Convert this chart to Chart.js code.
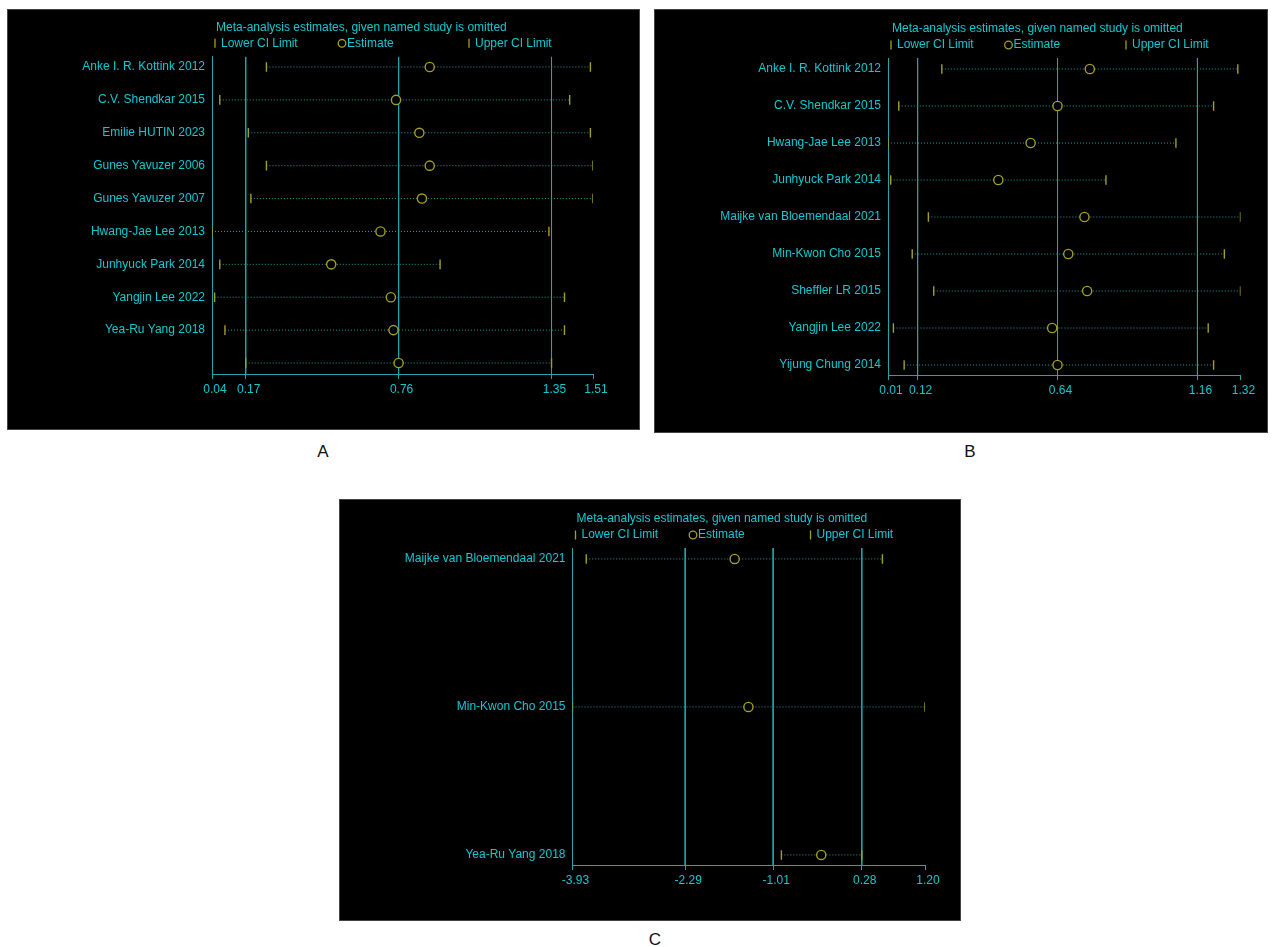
<!DOCTYPE html>
<html>
<head>
<meta charset="utf-8">
<script src="https://cdn.jsdelivr.net/npm/chart.js@4"></script>
<style>
  body { margin:0; background:#fff; width:1272px; height:947px; position:relative; overflow:hidden;
         font-family:"Liberation Sans", Arial, sans-serif; }
  canvas { position:absolute; background:#000; outline:1px solid #454545; }
  .tag { position:absolute; font-size:17px; color:#111; transform:translateX(-50%); line-height:1; }
</style>
</head>
<body>
<canvas id="panelA" width="631" height="419" style="left:8px;top:10px"></canvas>
<canvas id="panelB" width="612" height="422" style="left:655px;top:10px"></canvas>
<canvas id="panelC" width="620" height="420" style="left:340px;top:500px"></canvas>
<div class="tag" style="left:323px;top:443px">A</div>
<div class="tag" style="left:970px;top:443px">B</div>
<div class="tag" style="left:655px;top:931px">C</div>

<script>
// ---- Panel A: omitted-study sensitivity analysis ----
const studiesA = ['Anke I. R. Kottink 2012', 'C.V. Shendkar 2015', 'Emilie HUTIN 2023',
  'Gunes Yavuzer 2006', 'Gunes Yavuzer 2007', 'Hwang-Jae Lee 2013', 'Junhyuck Park 2014',
  'Yangjin Lee 2022', 'Yea-Ru Yang 2018', ''];
const lowerA    = [0.25, 0.07, 0.18, 0.25, 0.19, 0.04, 0.07, 0.05, 0.09, 0.17];
const estimateA = [0.88, 0.75, 0.84, 0.88, 0.85, 0.69, 0.50, 0.73, 0.74, 0.76];
const upperA    = [1.50, 1.42, 1.50, 1.51, 1.51, 1.34, 0.92, 1.40, 1.40, 1.35];
const ticksA    = [0.04, 0.17, 0.76, 1.35, 1.51];
const refLinesA = [0.17, 0.76, 1.35];

// ---- Panel B ----
const studiesB = ['Anke I. R. Kottink 2012', 'C.V. Shendkar 2015', 'Hwang-Jae Lee 2013',
  'Junhyuck Park 2014', 'Maijke van Bloemendaal 2021', 'Min-Kwon Cho 2015',
  'Sheffler LR 2015', 'Yangjin Lee 2022', 'Yijung Chung 2014'];
const lowerB    = [0.21, 0.05, 0.01, 0.02, 0.16, 0.10, 0.18, 0.03, 0.07];
const estimateB = [0.76, 0.64, 0.54, 0.42, 0.74, 0.68, 0.75, 0.62, 0.64];
const upperB    = [1.31, 1.22, 1.08, 0.82, 1.32, 1.26, 1.32, 1.20, 1.22];
const ticksB    = [0.01, 0.12, 0.64, 1.16, 1.32];
const refLinesB = [0.12, 0.64, 1.16];

// ---- Panel C ----
const studiesC = ['Maijke van Bloemendaal 2021', 'Min-Kwon Cho 2015', 'Yea-Ru Yang 2018'];
const lowerC    = [-3.73, -3.93, -0.89];
const estimateC = [-1.57, -1.37, -0.31];
const upperC    = [0.58, 1.20, 0.28];
const ticksC    = [-3.93, -2.29, -1.01, 0.28, 1.20];
const refLinesC = [-2.29, -1.01, 0.28];

const TITLE = 'Meta-analysis estimates, given named study is omitted';
const LEGEND_LABELS = ['Lower CI Limit', 'Estimate', 'Upper CI Limit'];

const TEXT = '#14c8d0';
const AXIS = '#1fa6ab';
const MARK = '#a29e26';
const DOTS = '#1c9fa5';
const FONT = '"Liberation Sans", Arial, sans-serif';

// Title and key drawn above the plot region
const headerPlugin = {
  id: 'header',
  afterDraw(chart, args, opts) {
    const { ctx, chartArea } = chart;
    const left = chartArea.left, w = chartArea.right - chartArea.left;
    ctx.save();
    ctx.font = '12px ' + FONT;
    ctx.textBaseline = 'middle';
    ctx.textAlign = 'left';
    ctx.fillStyle = TEXT;
    ctx.fillText(TITLE, left + 4, opts.titleY);
    const y = opts.keyY;
    const cols = [left + 3, left + 3 + w / 3, left + 3 + 2 * w / 3];
    ctx.strokeStyle = MARK;
    ctx.lineWidth = 1.3;
    ctx.beginPath(); ctx.moveTo(cols[0], y - 4.5); ctx.lineTo(cols[0], y + 4.5); ctx.stroke();
    ctx.fillText(LEGEND_LABELS[0], cols[0] + 6, y);
    ctx.beginPath(); ctx.arc(cols[1], y, 3.8, 0, Math.PI * 2); ctx.stroke();
    ctx.fillText(LEGEND_LABELS[1], cols[1] + 5, y);
    ctx.beginPath(); ctx.moveTo(cols[2], y - 4.5); ctx.lineTo(cols[2], y + 4.5); ctx.stroke();
    ctx.fillText(LEGEND_LABELS[2], cols[2] + 6, y);
    ctx.restore();
  }
};

function buildPanel(id, studies, lower, estimate, upper, ticks, refLines, geo) {
  const canvas = document.getElementById(id);
  const W = canvas.width, H = canvas.height;
  const rows = studies.map((_, i) => i);
  const X_AXIS_H = 30;

  // vertical reference lines: pooled estimate and its confidence limits
  const refDatasets = refLines.map(v => ({
    type: 'scatter',
    data: [{ x: v, y: geo.yMin }, { x: v, y: geo.yMax }],
    showLine: true,
    borderColor: AXIS,
    borderWidth: 1,
    pointRadius: 0,
    order: 6
  }));

  // dotted span from lower to upper limit for each omitted study
  const ciLines = rows.map(i => ({
    type: 'scatter',
    data: [{ x: lower[i], y: i }, { x: upper[i], y: i }],
    showLine: true,
    borderColor: DOTS,
    borderWidth: 1,
    borderDash: [1, 2],
    pointRadius: 0,
    order: 5
  }));

  const limitMarker = vals => ({
    type: 'scatter',
    data: rows.map(i => ({ x: vals[i], y: i })),
    pointStyle: 'line',
    rotation: 90,
    pointRadius: 4.8,
    pointBorderColor: MARK,
    pointBorderWidth: 1.4,
    order: 1
  });

  const estimates = {
    type: 'scatter',
    data: rows.map(i => ({ x: estimate[i], y: i })),
    pointStyle: 'circle',
    pointRadius: 4.6,
    pointBackgroundColor: '#000',
    pointBorderColor: MARK,
    pointBorderWidth: 1.4,
    order: 0
  };

  new Chart(canvas, {
    type: 'scatter',
    data: { datasets: [...refDatasets, ...ciLines, limitMarker(lower), limitMarker(upper), estimates] },
    options: {
      responsive: false,
      animation: false,
      devicePixelRatio: 1,
      events: [],
      layout: {
        padding: { left: 0, top: geo.top, right: W - geo.right, bottom: H - geo.bottom - X_AXIS_H }
      },
      plugins: {
        legend: { display: false },
        tooltip: { enabled: false },
        header: { titleY: geo.titleY, keyY: geo.keyY }
      },
      scales: {
        x: {
          type: 'linear',
          min: ticks[0],
          max: ticks[ticks.length - 1],
          afterBuildTicks: s => { s.ticks = ticks.map(v => ({ value: v })); },
          afterFit: s => { s.height = X_AXIS_H; },
          border: { display: true, color: AXIS, width: 1 },
          grid: { drawOnChartArea: false, color: AXIS, tickColor: AXIS, tickLength: 5, lineWidth: 1 },
          ticks: {
            color: TEXT, font: { family: FONT, size: 12 }, padding: 3, labelOffset: 3,
            maxRotation: 0, autoSkip: false, callback: v => v.toFixed(2)
          }
        },
        y: {
          type: 'linear',
          reverse: true,
          min: geo.yMin,
          max: geo.yMax,
          afterBuildTicks: s => { s.ticks = rows.map(v => ({ value: v })); },
          afterFit: s => { s.width = geo.left; },
          border: { display: true, color: AXIS, width: 1 },
          grid: { display: false, drawTicks: false },
          ticks: {
            color: TEXT, font: { family: FONT, size: 12 }, padding: 7, autoSkip: false,
            callback: v => studies[v]
          }
        }
      }
    },
    plugins: [headerPlugin]
  });
}

buildPanel('panelA', studiesA, lowerA, estimateA, upperA, ticksA, refLinesA,
  { left: 204, right: 585, top: 46.7, bottom: 364, yMin: -0.313, yMax: 9.334, titleY: 17.3, keyY: 33.3 });
buildPanel('panelB', studiesB, lowerB, estimateB, upperB, ticksB, refLinesB,
  { left: 233, right: 585.5, top: 48, bottom: 365, yMin: -0.297, yMax: 8.27, titleY: 19, keyY: 35 });
buildPanel('panelC', studiesC, lowerC, estimateC, upperC, ticksC, refLinesC,
  { left: 232.5, right: 585, top: 48, bottom: 365, yMin: -0.074, yMax: 2.068, titleY: 19, keyY: 35 });
</script>
</body>
</html>
